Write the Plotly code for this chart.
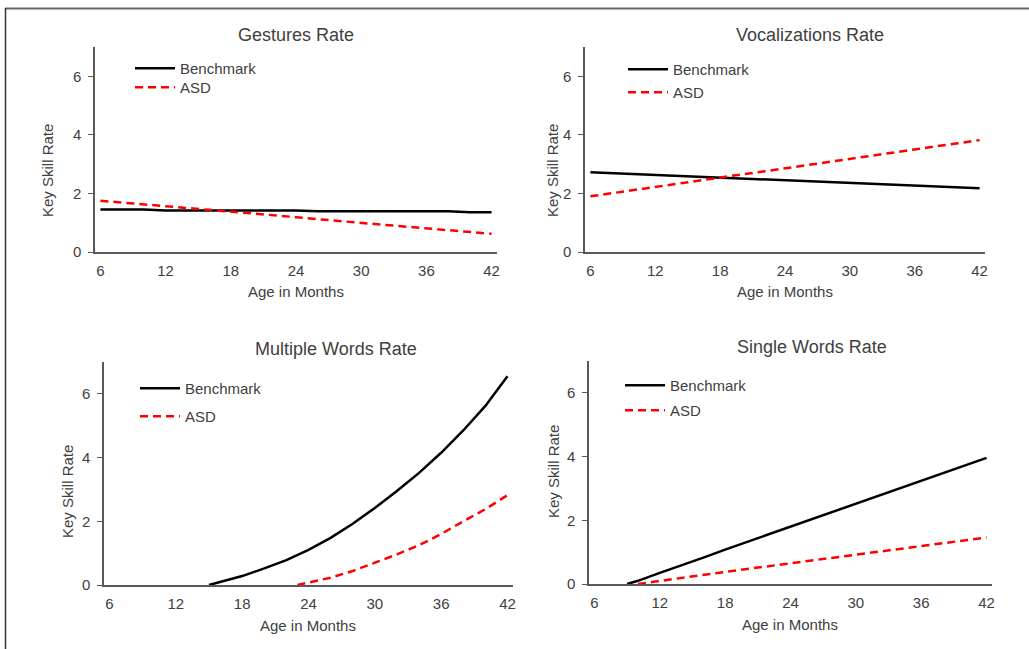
import plotly.graph_objects as go

# ---------------- data ----------------
MONTHS = [6, 8, 10, 12, 14, 16, 18, 20, 22, 24, 26, 28, 30, 32, 34, 36, 38, 40, 42]

GEST_BENCH = [1.45, 1.45, 1.45, 1.42, 1.42, 1.42, 1.42, 1.42, 1.42, 1.42,
              1.39, 1.39, 1.39, 1.39, 1.39, 1.39, 1.39, 1.36, 1.36]
GEST_ASD = [1.75, 1.69, 1.62, 1.56, 1.50, 1.44, 1.37, 1.31, 1.25, 1.19,
            1.12, 1.06, 1.00, 0.94, 0.87, 0.81, 0.75, 0.69, 0.62]

VOC_BENCH = [2.72, 2.69, 2.66, 2.63, 2.60, 2.57, 2.54, 2.51, 2.48, 2.45,
             2.42, 2.39, 2.36, 2.33, 2.30, 2.27, 2.24, 2.21, 2.18]
VOC_ASD = [1.90, 2.01, 2.11, 2.22, 2.33, 2.43, 2.54, 2.65, 2.75, 2.86,
           2.97, 3.07, 3.18, 3.29, 3.39, 3.50, 3.61, 3.71, 3.82]

MW_BENCH_MONTHS = [15, 16, 18, 20, 22, 24, 26, 28, 30, 32, 34, 36, 38, 40, 42]
MW_BENCH = [0.0, 0.10, 0.28, 0.52, 0.78, 1.10, 1.48, 1.92, 2.42, 2.95,
            3.52, 4.15, 4.85, 5.62, 6.55]
MW_ASD_MONTHS = [23, 24, 26, 28, 30, 32, 34, 36, 38, 40, 42]
MW_ASD = [0.0, 0.07, 0.23, 0.44, 0.69, 0.96, 1.25, 1.60, 2.00, 2.38, 2.82]

SW_BENCH_MONTHS = [9, 10, 12, 14, 16, 18, 20, 22, 24, 26, 28, 30, 32, 34, 36, 38, 40, 42]
SW_BENCH = [0.0, 0.10, 0.35, 0.58, 0.83, 1.08, 1.32, 1.56, 1.82, 2.06,
            2.30, 2.54, 2.78, 3.02, 3.26, 3.50, 3.72, 3.96]
SW_ASD_MONTHS = [10, 12, 14, 16, 18, 20, 22, 24, 26, 28, 30, 32, 34, 36, 38, 40, 42]
SW_ASD = [0.0, 0.10, 0.20, 0.29, 0.38, 0.47, 0.56, 0.66, 0.75, 0.84,
          0.93, 1.02, 1.10, 1.19, 1.28, 1.37, 1.46]

PANEL_TITLES = ["Gestures Rate", "Vocalizations Rate", "Multiple Words Rate", "Single Words Rate"]
SERIES_NAMES = ["Benchmark", "ASD"]
X_TICKS = [6, 12, 18, 24, 30, 36, 42]
Y_TICKS = [0, 2, 4, 6]
X_TITLE = "Age in Months"
Y_TITLE = "Key Skill Rate"

# ---------------- layout geometry (pixels) ----------------
W, H = 1029, 649
FONT = "Liberation Sans, Arial, Helvetica, sans-serif"
TXT = "#404040"
AX = "#595959"


def fx(px):
    return px / W


def fy(py):
    return 1 - py / H


# plot rectangles: (left, right, top, bottom)
RECTS = [(95, 497, 47, 252), (585, 985, 47, 252), (104, 513, 362, 585), (589, 992, 361, 584)]
TITLE_POS = [(296, 35), (810, 35), (336, 349), (812, 347)]
YTITLE_POS = [(47, 171), (552, 171), (67, 492), (553, 472)]
XTITLE_POS = [(296, 291), (785, 291), (308, 625), (790, 624)]
# legend entries: (text left x, benchmark centre y, asd centre y)
LEGEND_POS = [(180, 68, 87), (673, 69, 92), (185, 388, 416), (670, 385, 410)]
LEG_TEXT_OFF = 50   # text offset from legend left edge (itemwidth 40)
LEG_CENTER_OFF = 16  # item centre offset from legend top

panel_data = [
    (MONTHS, GEST_BENCH, MONTHS, GEST_ASD),
    (MONTHS, VOC_BENCH, MONTHS, VOC_ASD),
    (MW_BENCH_MONTHS, MW_BENCH, MW_ASD_MONTHS, MW_ASD),
    (SW_BENCH_MONTHS, SW_BENCH, SW_ASD_MONTHS, SW_ASD),
]

fig = go.Figure()
layout = dict(
    width=W, height=H,
    margin=dict(l=0, r=0, t=0, b=0, pad=0, autoexpand=False),
    paper_bgcolor="white", plot_bgcolor="white",
    font=dict(family=FONT, size=15, color=TXT),
    showlegend=True,
    annotations=[], shapes=[],
)


def legend_cfg(tx, cy):
    return dict(
        x=fx(tx - LEG_TEXT_OFF), y=fy(cy - LEG_CENTER_OFF),
        xanchor="left", yanchor="top", itemwidth=40,
        bgcolor="rgba(0,0,0,0)", borderwidth=0,
        font=dict(size=15, color=TXT), visible=True,
        itemclick=False, itemdoubleclick=False,
    )


for i, (xb, yb, xa, ya) in enumerate(panel_data):
    n = i + 1
    xa_name = "x" if n == 1 else f"x{n}"
    ya_name = "y" if n == 1 else f"y{n}"
    leg_b = "legend" if n == 1 else f"legend{2 * n - 1}"
    leg_a = f"legend{2 * n}"
    fig.add_trace(go.Scatter(
        x=xb, y=yb, mode="lines", name=SERIES_NAMES[0],
        line=dict(color="black", width=2.5), showlegend=True,
        xaxis=xa_name, yaxis=ya_name, legend=leg_b,
    ))
    fig.add_trace(go.Scatter(
        x=xa, y=ya, mode="lines", name=SERIES_NAMES[1],
        line=dict(color="#ff0000", width=2.5, dash="8px,5px"), showlegend=True,
        xaxis=xa_name, yaxis=ya_name, legend=leg_a,
    ))
    l, r, t, b = RECTS[i]
    xkey = "xaxis" if n == 1 else f"xaxis{n}"
    ykey = "yaxis" if n == 1 else f"yaxis{n}"
    layout[xkey] = dict(
        domain=[fx(l), fx(r)], range=[5.5, 42.5], anchor=ya_name,
        tickvals=X_TICKS, showgrid=False, zeroline=False,
        showline=True, linecolor=AX, linewidth=1.5, ticks="",
        ticklabelstandoff=4, tickfont=dict(size=15, color=TXT),
        fixedrange=True, automargin=False,
    )
    layout[ykey] = dict(
        domain=[fy(b), fy(t)], range=[0, 7], anchor=xa_name,
        tickvals=Y_TICKS, showgrid=False, zeroline=False,
        showline=True, linecolor=AX, linewidth=1.5,
        ticks="outside", ticklen=5, tickcolor=AX, tickwidth=1,
        ticklabelstandoff=4, tickfont=dict(size=15, color=TXT),
        fixedrange=True, automargin=False,
    )
    tx, cyb, cya = LEGEND_POS[i]
    layout[leg_b] = legend_cfg(tx, cyb)
    layout[leg_a] = legend_cfg(tx, cya)

    px_, py_ = TITLE_POS[i]
    layout["annotations"].append(dict(
        text=PANEL_TITLES[i], x=fx(px_), y=fy(py_), xref="paper", yref="paper",
        xanchor="center", yanchor="middle", showarrow=False,
        font=dict(size=18, color=TXT)))
    yx, yy = YTITLE_POS[i]
    layout["annotations"].append(dict(
        text=Y_TITLE, x=fx(yx), y=fy(yy), xref="paper", yref="paper",
        xanchor="center", yanchor="middle", showarrow=False, textangle=-90,
        font=dict(size=15, color=TXT)))
    xx, xy = XTITLE_POS[i]
    layout["annotations"].append(dict(
        text=X_TITLE, x=fx(xx), y=fy(xy), xref="paper", yref="paper",
        xanchor="center", yanchor="middle", showarrow=False,
        font=dict(size=15, color=TXT)))

# outer frame (top and left edges)
layout["shapes"].append(dict(type="line", xref="paper", yref="paper",
                             x0=fx(5), x1=1, y0=fy(8.5), y1=fy(8.5),
                             line=dict(color="#666666", width=2)))
layout["shapes"].append(dict(type="line", xref="paper", yref="paper",
                             x0=fx(5.5), x1=fx(5.5), y0=fy(8), y1=0,
                             line=dict(color="#333333", width=1.5)))

fig.update_layout(**layout)
fig.write_html(
    "out.html",
    config={"displayModeBar": False},
    post_script=(
        "var s='margin:0;padding:0;overflow:hidden;width:1029px;height:649px;';"
        "document.documentElement.style.cssText=s;"
        "document.body.style.cssText=s;"
    ),
)
